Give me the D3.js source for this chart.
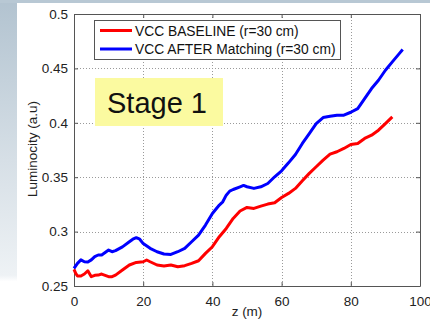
<!DOCTYPE html>
<html>
<head>
<meta charset="utf-8">
<script src="https://cdn.jsdelivr.net/npm/d3@7"></script>
<style>
  body { margin: 0; background: #fff; }
  svg text { font-family: "Liberation Sans", Arial, sans-serif; }
</style>
</head>
<body>
<div id="chart"></div>
<script>
// data
const zBase = [0, 0.5, 1, 2, 3, 4, 5, 6, 7, 8, 9, 10, 11, 12, 14, 16, 18, 20, 21, 22, 24, 26, 28, 30, 32, 34, 36, 38, 40, 42, 44, 46, 48, 50, 52, 54, 56, 58, 60, 62, 64, 66, 68, 70, 72, 74, 76, 78, 80, 82, 84, 86, 88, 90, 92];
const lumBase = [0.2653, 0.2616, 0.2592, 0.2592, 0.261, 0.264, 0.2586, 0.2598, 0.26, 0.261, 0.2598, 0.2586, 0.2586, 0.26, 0.2647, 0.2693, 0.2717, 0.2723, 0.2739, 0.2723, 0.2693, 0.2684, 0.2693, 0.2677, 0.2687, 0.2708, 0.2732, 0.28, 0.2861, 0.2953, 0.3029, 0.3121, 0.3189, 0.3222, 0.3213, 0.3234, 0.3253, 0.3265, 0.3314, 0.3351, 0.3397, 0.3467, 0.3535, 0.3596, 0.3657, 0.3712, 0.3734, 0.3764, 0.38, 0.381, 0.3856, 0.3886, 0.3932, 0.3993, 0.4055];

const zAfter = [0, 1, 2, 3, 4, 5, 6, 7, 8, 10, 11, 12, 14, 16, 17, 18, 19, 20, 22, 24, 26, 28, 30, 32, 34, 36, 38, 40, 42, 43, 44, 45, 46, 48, 49, 50, 52, 54, 56, 58, 60, 62, 64, 66, 68, 70, 72, 74, 76, 78, 80, 82, 84, 86, 88, 90, 92, 94, 95];
const lumAfter = [0.2662, 0.2708, 0.274, 0.2723, 0.272, 0.274, 0.277, 0.2785, 0.2785, 0.283, 0.2815, 0.2825, 0.286, 0.2907, 0.293, 0.2944, 0.293, 0.289, 0.2846, 0.2815, 0.2794, 0.279, 0.2815, 0.2846, 0.2907, 0.2968, 0.306, 0.3167, 0.3244, 0.3274, 0.3335, 0.3372, 0.3387, 0.3412, 0.3424, 0.3412, 0.3397, 0.3412, 0.3442, 0.3504, 0.3559, 0.3632, 0.3709, 0.381, 0.3901, 0.3993, 0.4048, 0.406, 0.407, 0.407, 0.4097, 0.413, 0.4223, 0.4315, 0.4391, 0.4483, 0.456, 0.4636, 0.4673];

const xTicks = [0, 20, 40, 60, 80, 100];
const yTicks = [0.25, 0.3, 0.35, 0.4, 0.45, 0.5];
const seriesNames = ["VCC BASELINE (r=30 cm)", "VCC AFTER Matching (r=30 cm)"];
const seriesColors = ["#ff0000", "#0000ff"];

const width = 430, height = 320;
const pLeft = 74, pRight = 420, pTop = 14, pBottom = 286;

const svg = d3.select("#chart")
  .append("svg")
    .attr("width", width)
    .attr("height", height);

// slide background
const defs = svg.append("defs");
const grad = defs.append("linearGradient")
    .attr("id", "side").attr("x1", 0).attr("y1", 0).attr("x2", 0).attr("y2", 1);
grad.append("stop").attr("offset", 0).attr("stop-color", "#b2c3d0");
grad.append("stop").attr("offset", 0.5).attr("stop-color", "#d6dfe6");
grad.append("stop").attr("offset", 0.86).attr("stop-color", "#eef2f5");
grad.append("stop").attr("offset", 0.88).attr("stop-color", "#ffffff");

svg.append("rect").attr("width", width).attr("height", height).attr("fill", "#fff");
svg.append("rect").attr("x", 0).attr("y", 0).attr("width", 17).attr("height", height).attr("fill", "url(#side)");
svg.append("rect").attr("x", 0).attr("y", 0).attr("width", width).attr("height", 3).attr("fill", "#b8c8d4");

const x = d3.scaleLinear().domain([0, 100]).range([pLeft, pRight]);
const y = d3.scaleLinear().domain([0.25, 0.5]).range([pBottom, pTop]);

// grid
const grid = svg.append("g").attr("stroke", "#9a9a9a").attr("stroke-dasharray", "1,2").attr("stroke-width", 1);
grid.selectAll(".gx").data(xTicks.slice(1, -1)).join("line")
    .attr("x1", d => Math.round(x(d)) + 0.5).attr("x2", d => Math.round(x(d)) + 0.5)
    .attr("y1", pTop).attr("y2", pBottom);
grid.selectAll(".gy").data(yTicks.slice(1, -1)).join("line")
    .attr("y1", d => Math.round(y(d)) + 0.5).attr("y2", d => Math.round(y(d)) + 0.5)
    .attr("x1", pLeft).attr("x2", pRight);

// axes (MATLAB box with inward ticks)
const fmt = d => String(d);
const gx = svg.append("g").attr("transform", `translate(0,${pBottom})`)
    .call(d3.axisBottom(x).tickValues(xTicks).tickFormat(fmt).tickSizeInner(-4).tickSizeOuter(0).tickPadding(10));
const gxt = svg.append("g").attr("transform", `translate(0,${pTop})`)
    .call(d3.axisTop(x).tickValues(xTicks).tickFormat("").tickSizeInner(-4).tickSizeOuter(0));
const gy = svg.append("g").attr("transform", `translate(${pLeft},0)`)
    .call(d3.axisLeft(y).tickValues(yTicks).tickFormat(fmt).tickSizeInner(-4).tickSizeOuter(0).tickPadding(6));
const gyr = svg.append("g").attr("transform", `translate(${pRight},0)`)
    .call(d3.axisRight(y).tickValues(yTicks).tickFormat("").tickSizeInner(-4).tickSizeOuter(0));

[gx, gxt, gy, gyr].forEach(g => {
  g.select(".domain").attr("stroke", "#555");
  g.selectAll(".tick line").attr("stroke", "#555");
  g.selectAll("text").attr("fill", "#222").style("font-size", "13.5px");
});

// series
const line = d3.line().x(d => x(d[0])).y(d => y(d[1]));
const series = [d3.zip(zBase, lumBase), d3.zip(zAfter, lumAfter)];
svg.selectAll(".series").data(series).join("path")
    .attr("fill", "none")
    .attr("stroke", (d, i) => seriesColors[i])
    .attr("stroke-width", 3)
    .attr("stroke-linejoin", "round")
    .attr("d", line);

// legend
const lg = svg.append("g");
lg.append("rect").attr("x", 94.5).attr("y", 20.5).attr("width", 246).attr("height", 39)
    .attr("fill", "#fff").attr("stroke", "#555");
seriesNames.forEach((name, i) => {
  const ly = 30.5 + i * 18.5;
  lg.append("line").attr("x1", 100).attr("x2", 132).attr("y1", ly).attr("y2", ly)
      .attr("stroke", seriesColors[i]).attr("stroke-width", 3);
  lg.append("text").attr("x", 135).attr("y", ly + 5).attr("fill", "#111")
      .style("font-size", "13.8px").text(name);
});

// Stage 1 label
svg.append("rect").attr("x", 95).attr("y", 78).attr("width", 128).attr("height", 48).attr("fill", "#fbfaa0");
svg.append("text").attr("x", 107).attr("y", 112.5).attr("fill", "#111")
    .style("font-size", "29px").text("Stage 1");

// axis titles
svg.append("text").attr("x", x(50)).attr("y", 316).attr("text-anchor", "middle")
    .attr("fill", "#222").style("font-size", "13.5px").text("z (m)");
svg.append("text").attr("transform", "translate(37,149) rotate(-90)").attr("text-anchor", "middle")
    .attr("fill", "#222").style("font-size", "13.5px").text("Luminocity (a.u)");
</script>
</body>
</html>
